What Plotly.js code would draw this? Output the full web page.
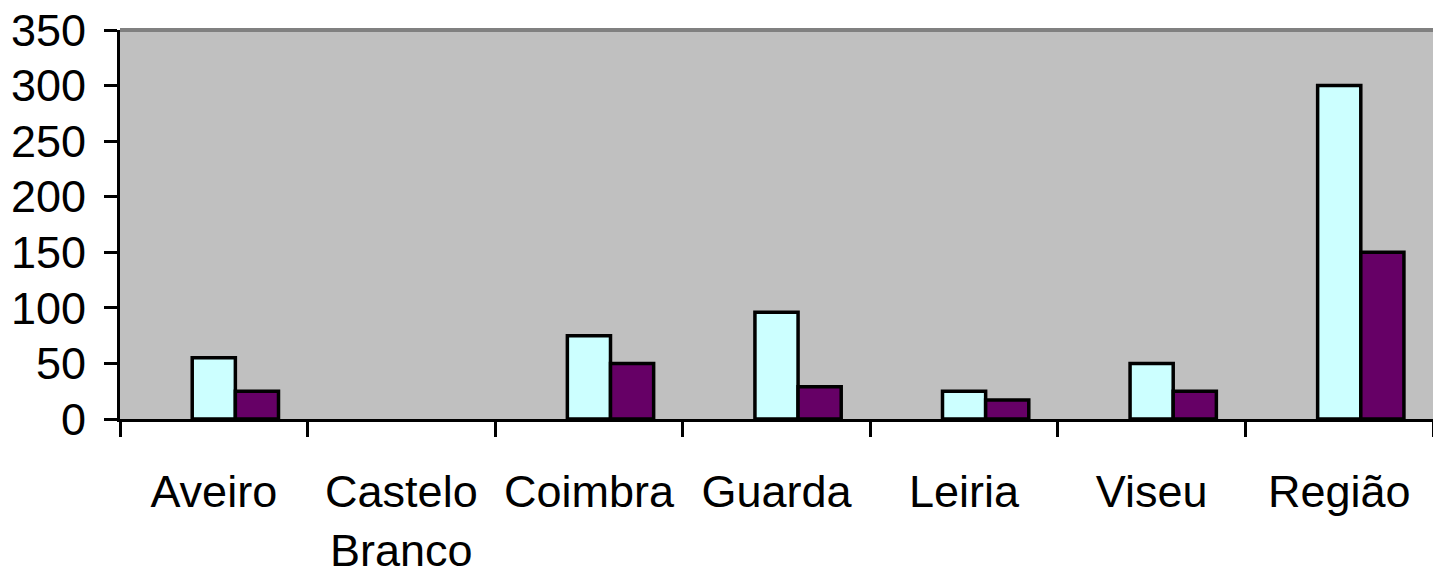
<!DOCTYPE html>
<html>
<head>
<meta charset="utf-8">
<script src="https://cdn.plot.ly/plotly-3.0.1.min.js"></script>
<style>html,body{margin:0;padding:0;background:#fff;}#chart{width:1433px;height:584px;}</style>
</head>
<body>
<div id="chart"></div>
<script>
const categories = ["Aveiro", "Castelo<br>Branco", "Coimbra", "Guarda", "Leiria", "Viseu", "Região"];
const seriesEmpty = [null, null, null, null, null, null, null];
const seriesA = [55, null, 75, 96, 25, 50, 300];
const seriesB = [25, null, 50, 29, 17, 25, 150];
const yTicks = [0, 50, 100, 150, 200, 250, 300, 350];

const line = {color: "#000000", width: 3.5};
const traces = [
  {type: "bar", x: categories, y: seriesEmpty, marker: {color: "#9999FF", line: line}, hoverinfo: "skip"},
  {type: "bar", x: categories, y: seriesA, marker: {color: "#CCFFFF", line: line}},
  {type: "bar", x: categories, y: seriesB, marker: {color: "#660066", line: line}}
];

const font = {family: "Liberation Sans, Arial, sans-serif", size: 45, color: "#000000"};
const layout = {
  width: 1433, height: 584,
  margin: {l: 120, r: 0, t: 30, b: 165, pad: 0},
  paper_bgcolor: "#FFFFFF",
  plot_bgcolor: "#C0C0C0",
  showlegend: false,
  barmode: "group",
  bargap: 0.31,
  bargroupgap: 0,
  font: font,
  xaxis: {
    type: "category",
    tickson: "boundaries",
    tickangle: 0,
    ticks: "outside", ticklen: 15, tickwidth: 3, tickcolor: "#000000",
    showline: true, linecolor: "#000000", linewidth: 3,
    showgrid: false, zeroline: false,
    tickfont: font,
    ticklabelstandoff: 31,
    fixedrange: true
  },
  yaxis: {
    range: [0, 350],
    tickvals: yTicks,
    ticktext: yTicks.map(String),
    ticks: "outside", ticklen: 13, tickwidth: 3, tickcolor: "#000000",
    showline: true, linecolor: "#000000", linewidth: 3,
    showgrid: false, zeroline: false,
    tickfont: font,
    ticklabelstandoff: 9,
    fixedrange: true
  },
  shapes: [
    {type: "line", xref: "paper", yref: "paper", x0: 0, x1: 1, y0: 1, y1: 1, line: {color: "#808080", width: 4}}
  ]
};

Plotly.newPlot("chart", traces, layout, {displayModeBar: false, staticPlot: true});
</script>
</body>
</html>
